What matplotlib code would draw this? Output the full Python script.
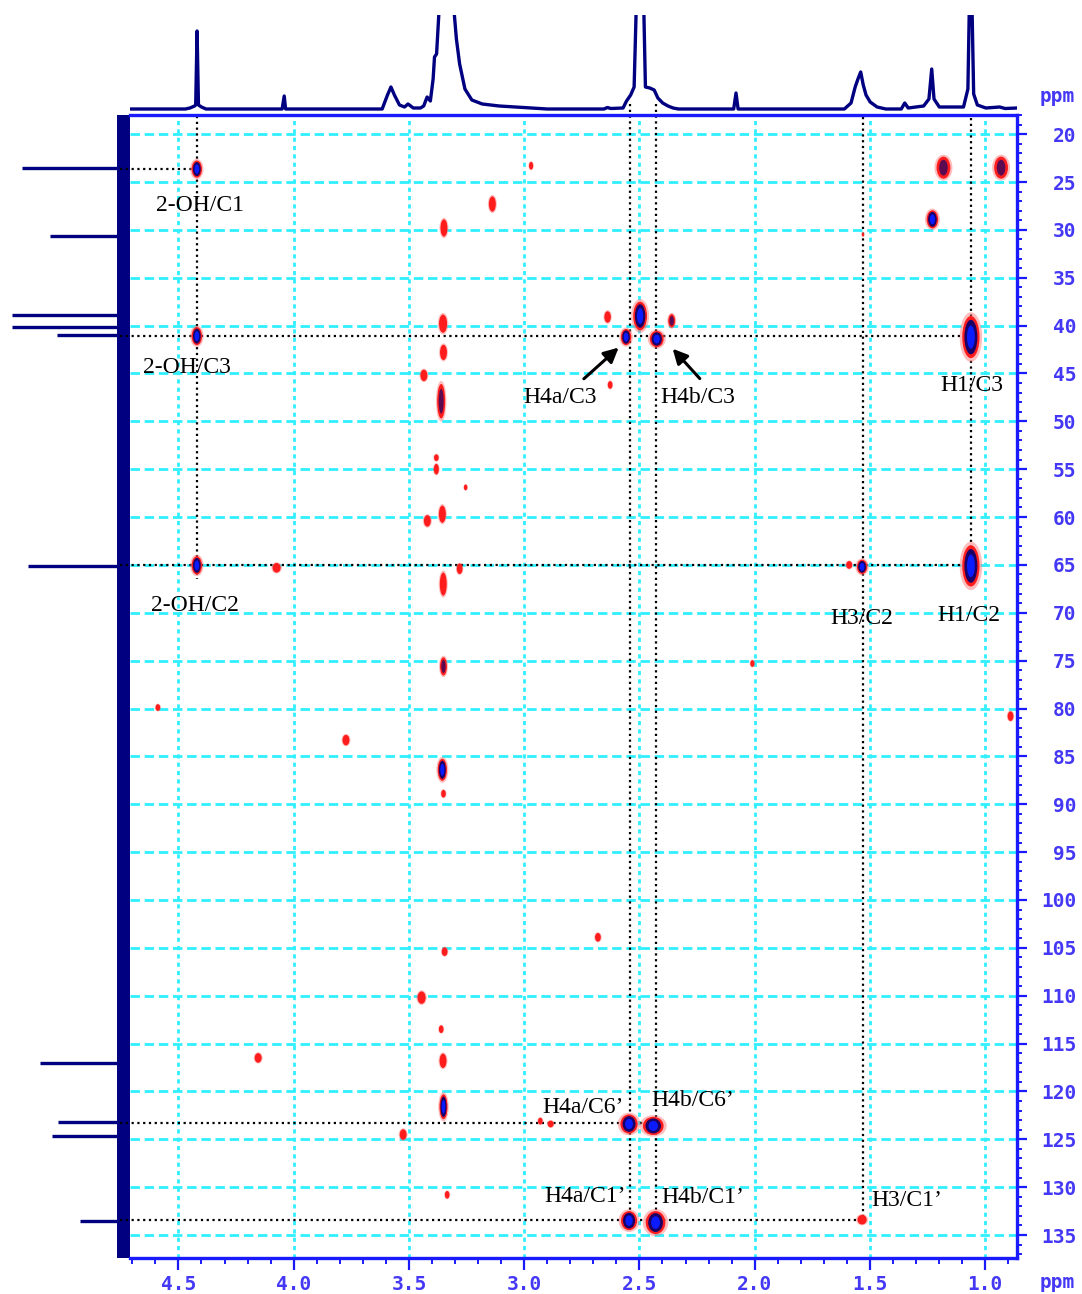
import numpy as np
import matplotlib.pyplot as plt
from matplotlib.patches import Ellipse

# 1H projection trace (ppm, height above baseline); tall peaks run off the top
h1_ppm = [4.71, 4.47, 4.45, 4.43, 4.425, 4.419, 4.413, 4.40, 4.38, 4.05, 4.041, 4.035,
          3.63, 3.616, 3.593, 3.578, 3.563, 3.541, 3.519, 3.504, 3.481, 3.45, 3.436,
          3.421, 3.407, 3.395, 3.389, 3.38, 3.369, 3.34, 3.305, 3.294, 3.28, 3.257,
          3.227, 3.182, 3.108, 3.003, 2.90, 2.654, 2.639, 2.624, 2.571, 2.556, 2.538,
          2.523, 2.514, 2.50, 2.481, 2.474, 2.455, 2.436, 2.42, 2.399, 2.376, 2.354,
          2.331, 2.091, 2.081, 2.072, 1.611, 1.582, 1.564, 1.552, 1.54, 1.529, 1.517,
          1.499, 1.469, 1.431, 1.364, 1.349, 1.334, 1.267, 1.244, 1.232, 1.222, 1.199,
          1.094, 1.075, 1.069, 1.063, 1.057, 1.05, 1.034, 0.997, 0.937, 0.914, 0.862]
h1_int = [0, 0, 1, 3, 4, 78, 4, 2, 0, 0, 13, 0,
          0, 0, 14, 22, 14, 4, 2, 5, 1, 1, 3,
          12, 8, 30, 52, 55, 100, 200, 100, 70, 45, 20,
          9, 5, 3, 1.5, 0, 0, 1.5, 0.5, 1, 8, 14,
          22, 100, 200, 100, 22, 21, 19, 11, 6, 3, 1,
          0, 0, 16, 0, 0, 6, 22, 30, 37, 24, 14,
          7, 2, 0, 0, 6, 1, 3, 10, 40, 10, 2,
          2, 20, 100, 200, 100, 15, 4, 1, 2, 0.5, 1]

# 13C projection lines (ppm, length)
c13_ppm = [23.6, 30.7, 39.0, 40.2, 41.1, 65.2, 117.0, 123.2, 124.7, 133.5]
c13_int = [108, 80, 118, 118, 73, 102, 90, 72, 78, 50]

# HMBC cross peaks: 1H ppm, 13C ppm, 1H width, 13C width, contour depth
pk_h = [4.42, 4.42, 4.42, 1.062, 1.062, 1.229, 1.181, 0.931, 1.534, 1.59,
        2.558, 2.425, 2.497, 2.638, 2.36, 2.627, 2.545, 2.44, 2.93, 2.885,
        2.545, 2.43, 1.534, 4.074, 4.589, 3.773, 4.154, 3.525, 3.334, 3.445,
        2.68, 2.01, 0.89, 3.138, 2.97, 1.53,
        3.348, 3.352, 3.35, 3.435, 3.36, 3.381, 3.381, 3.254, 3.355, 3.42,
        3.28, 3.351, 3.35, 3.355, 3.35, 3.345, 3.36, 3.352, 3.35]
pk_c = [23.65, 41.1, 65.05, 41.2, 65.1, 28.9, 23.5, 23.5, 65.2, 65.0,
        41.2, 41.4, 39.0, 39.1, 39.5, 46.2, 123.4, 123.6, 123.1, 123.4,
        133.5, 133.7, 133.4, 65.3, 79.9, 83.3, 116.5, 124.5, 130.8, 110.2,
        103.9, 75.3, 80.8, 27.3, 23.3, 30.5,
        29.8, 39.8, 42.8, 45.2, 47.9, 53.8, 55.0, 56.9, 59.7, 60.4,
        65.4, 67.0, 75.6, 86.4, 88.9, 105.4, 113.5, 116.8, 121.6]
pk_dh = [0.045, 0.045, 0.045, 0.075, 0.075, 0.05, 0.06, 0.06, 0.045, 0.026,
         0.045, 0.06, 0.06, 0.028, 0.03, 0.02, 0.075, 0.09, 0.02, 0.025,
         0.07, 0.085, 0.04, 0.035, 0.02, 0.03, 0.03, 0.03, 0.02, 0.035,
         0.025, 0.018, 0.025, 0.03, 0.018, 0.01,
         0.03, 0.035, 0.03, 0.03, 0.035, 0.02, 0.022, 0.015, 0.03, 0.03,
         0.025, 0.03, 0.03, 0.04, 0.02, 0.025, 0.02, 0.03, 0.035]
pk_dc = [1.8, 1.9, 1.9, 4.4, 4.3, 1.9, 2.3, 2.3, 1.5, 0.8,
         1.7, 1.7, 3.0, 1.2, 1.4, 0.8, 2.0, 1.9, 0.7, 0.7,
         2.0, 2.4, 1.0, 1.0, 0.7, 1.1, 1.0, 1.1, 0.8, 1.3,
         0.9, 0.7, 1.0, 1.6, 0.8, 0.4,
         1.8, 1.9, 1.6, 1.2, 3.6, 0.7, 1.1, 0.6, 1.8, 1.2,
         1.1, 2.4, 1.9, 2.3, 0.8, 0.9, 0.8, 1.5, 2.6]
pk_lvl = [3, 3, 3, 3, 3, 3, 2, 2, 3, 1,
          3, 3, 3, 1, 2, 1, 3, 3, 1, 1,
          3, 3, 1, 1, 1, 1, 1, 1, 1, 1,
          1, 1, 1, 1, 1, 1,
          1, 1, 1, 1, 2, 1, 1, 1, 1, 1,
          1, 1, 2, 3, 1, 1, 1, 1, 3]

# correlation guide lines
vline_h = [4.42, 2.541, 2.429, 1.532, 1.062]
vline_top = [18.09, 16.9, 16.9, 18.2, 18.3]
vline_bot = [66.5, 134.0, 134.0, 133.45, 66.0]
hline_c = [23.65, 41.1, 65.05, 123.3, 133.45]
hline_end = [4.42, 1.062, 1.062, 2.43, 1.532]

labels = ['2-OH/C1', '2-OH/C3', '2-OH/C2', 'H4a/C3', 'H4b/C3', 'H1/C3',
          'H3/C2', 'H1/C2', 'H4a/C6\u2019', 'H4b/C6\u2019', 'H4a/C1\u2019',
          'H4b/C1\u2019', 'H3/C1\u2019']
lab_h = [4.407, 4.463, 4.428, 2.844, 2.246, 1.058, 1.534, 1.07, 2.745, 2.268,
         2.736, 2.224, 1.339]
lab_c = [28.0, 44.9, 69.8, 48.05, 48.05, 46.8, 71.2, 70.9, 122.3, 121.5,
         131.6, 131.7, 132.0]

W, H = 1082, 1294
navy = '#000080'
frame = '#1a1aff'
tickc = '#4438f4'
xlim = (4.71, 0.862)
ylim = (137.4, 18.09)

fig = plt.figure(figsize=(W / 100, H / 100), dpi=100)

# 1H trace on top
ax_top = fig.add_axes([130 / W, 1 - 112 / H, 887 / W, 97 / H])
ax_top.set_facecolor('none')
ax_top.plot(h1_ppm, h1_int, color=navy, lw=2.4, solid_joinstyle='round')
ax_top.set_xlim(xlim)
ax_top.set_ylim(-3, 94)
ax_top.axis('off')

# 13C trace on the left
ax_left = fig.add_axes([0, 1 - 1258 / H, 130 / W, 1143 / H])
ax_left.set_facecolor('none')
ax_left.axvspan(0, 13, color=navy, lw=0)
ax_left.hlines(c13_ppm, 0, c13_int, color=navy, lw=2.4)
ax_left.set_xlim(130, 0)
ax_left.set_ylim(ylim)
ax_left.axis('off')

ax = fig.add_axes([130 / W, 1 - 1258 / H, 887 / W, 1143 / H])
ax.set_facecolor('none')
ax.set_xlim(xlim)
ax.set_ylim(ylim)

for x in np.arange(4.5, 0.99, -0.5):
    ax.axvline(x, color='#30f0ff', lw=2.0, ls=(0, (1.5, 1.5)), zorder=1)
for y in range(20, 136, 5):
    ax.axhline(y, color='#30f0ff', lw=2.0, ls=(0, (3.4, 1.7)), zorder=1)

dot = (0, (1, 1.6))
for x, y0, y1 in zip(vline_h, vline_top, vline_bot):
    ax.plot([x, x], [y0, y1], color='black', lw=1.6, ls=dot, clip_on=False, zorder=2)
for y, x1 in zip(hline_c, hline_end):
    ax.plot([4.753, x1], [y, y], color='black', lw=1.6, ls=dot, clip_on=False, zorder=2)

for h, c, dh, dc, lvl in zip(pk_h, pk_c, pk_dh, pk_dc, pk_lvl):
    ax.add_patch(Ellipse((h, c), dh * 1.3, dc * 1.18, color='#ff7070', alpha=0.45, lw=0, zorder=3))
    ax.add_patch(Ellipse((h, c), dh, dc, color='#ff1c1c', lw=0, zorder=3))
    if lvl == 2:
        ax.add_patch(Ellipse((h, c), dh * 0.62, dc * 0.72, color='#5a0a50', lw=0, zorder=3))
    elif lvl == 3:
        ax.add_patch(Ellipse((h, c), dh * 0.75, dc * 0.82, color='#1a0066', lw=0, zorder=3))
        ax.add_patch(Ellipse((h, c), dh * 0.45, dc * 0.55, color='#0a1cff', lw=0, zorder=3))

for t, x, y in zip(labels, lab_h, lab_c):
    ax.text(x, y, t, ha='center', va='baseline', fontsize=17,
            family='Liberation Serif', color='black', zorder=5)

arrow = dict(arrowstyle='-|>', color='black', lw=2.2, mutation_scale=22)
ax.annotate('', xy=(2.581, 42.1), xytext=(2.75, 45.75), arrowprops=arrow, zorder=5)
ax.annotate('', xy=(2.364, 42.2), xytext=(2.23, 45.75), arrowprops=arrow, zorder=5)

# frame and ticks
for side in ['top', 'right', 'bottom']:
    ax.spines[side].set_color(frame)
    ax.spines[side].set_linewidth(2.4)
ax.spines['left'].set_visible(False)

ax.yaxis.tick_right()
ax.set_yticks(range(20, 136, 5))
ax.set_yticks(range(18, 138), minor=True)
ax.set_yticklabels([str(v) for v in range(20, 136, 5)])
ax.set_xticks(np.arange(4.5, 0.99, -0.5))
ax.set_xticks(np.round(np.arange(4.7, 0.85, -0.1), 1), minor=True)
ax.set_xticklabels(['%.1f' % v for v in np.arange(4.5, 0.99, -0.5)])
ax.tick_params(axis='y', which='major', direction='out', length=7.5, width=1.6,
               color=frame, pad=35, labelcolor=tickc, labelsize=14)
ax.tick_params(axis='y', which='minor', direction='out', length=3.8, width=1.4, color=frame)
ax.tick_params(axis='x', which='major', direction='out', length=8.5, width=1.6,
               color=frame, pad=4, labelcolor=tickc, labelsize=14)
ax.tick_params(axis='x', which='minor', direction='out', length=4, width=1.4, color=frame)
for lab in ax.get_yticklabels():
    lab.set_horizontalalignment('right')
    lab.set_family('DejaVu Sans Mono')
    lab.set_weight('bold')
for lab in ax.get_xticklabels():
    lab.set_family('DejaVu Sans Mono')
    lab.set_weight('bold')

fig.text(1057 / W, 1 - 97 / H, 'ppm', ha='center', va='center', fontsize=14,
         family='DejaVu Sans Mono', weight='bold', color=tickc)
fig.text(1057 / W, 1 - 1283 / H, 'ppm', ha='center', va='center', fontsize=14,
         family='DejaVu Sans Mono', weight='bold', color=tickc)

fig.savefig('out.png', dpi=100)
